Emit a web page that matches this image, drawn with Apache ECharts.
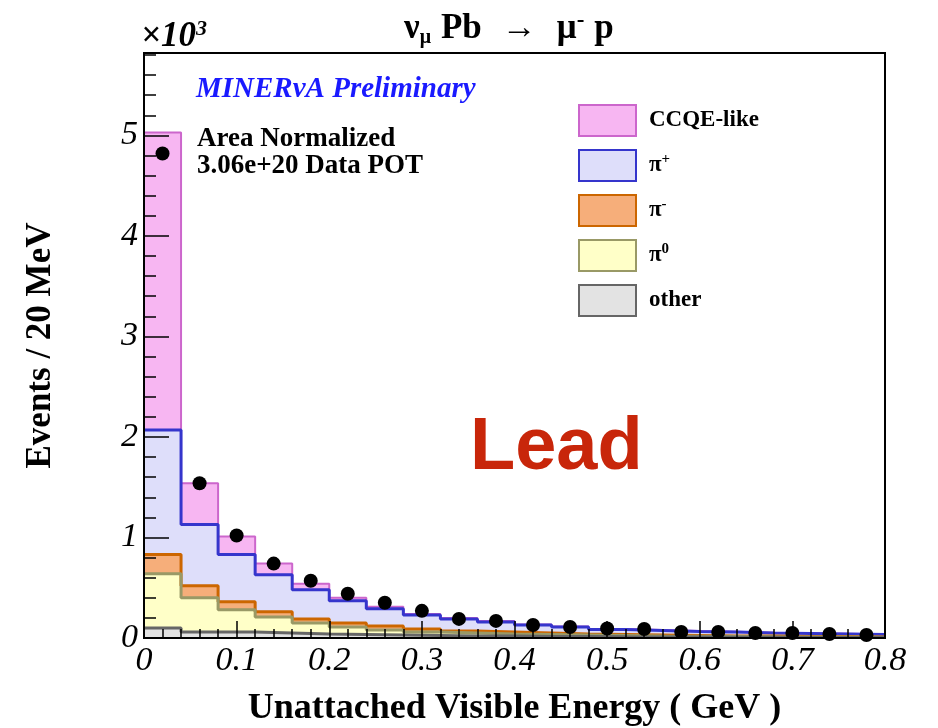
<!DOCTYPE html>
<html><head><meta charset="utf-8">
<script src="https://cdn.jsdelivr.net/npm/echarts@6/dist/echarts.min.js"></script>
<style>html,body{margin:0;padding:0;background:#fff}#c{width:938px;height:728px}</style>
</head><body><div id="c"></div>
<script>
// Bin edges (GeV), 20 MeV -> bins of 0.04 GeV as drawn
const binEdges = [0,0.04,0.08,0.12,0.16,0.20,0.24,0.28,0.32,0.36,0.40,0.44,0.48,0.52,0.56,0.60,0.64,0.68,0.72,0.76,0.80];
// Stacked components (x10^3 events), bottom to top
const other   = [0.10,0.06,0.06,0.05,0.04,0.035,0.03,0.025,0.02,0.02,0.015,0.015,0.012,0.01,0.01,0.008,0.007,0.006,0.005,0.005];
const pi0     = [0.54,0.34,0.22,0.16,0.11,0.075,0.05,0.035,0.03,0.02,0.02,0.015,0.013,0.01,0.008,0.007,0.005,0.004,0.005,0.003];
const piMinus = [0.19,0.12,0.08,0.05,0.04,0.04,0.04,0.03,0.02,0.02,0.015,0.01,0.01,0.01,0.007,0.005,0.008,0.005,0.005,0.002];
const piPlus  = [1.24,0.61,0.47,0.37,0.29,0.22,0.17,0.14,0.12,0.10,0.08,0.07,0.05,0.045,0.04,0.04,0.03,0.03,0.025,0.025];
const ccqe    = [2.96,0.41,0.18,0.11,0.06,0.03,0.02,0.01,0.01,0.01,0.005,0.005,0.005,0.005,0.005,0.002,0.002,0.002,0.002,0.002];
// Data points
const dataPts = [4.82,1.54,1.02,0.74,0.57,0.44,0.35,0.27,0.19,0.17,0.13,0.11,0.095,0.09,0.06,0.06,0.05,0.05,0.04,0.03];
const xTicks = [0,0.1,0.2,0.3,0.4,0.5,0.6,0.7,0.8];
const yTicks = [0,1,2,3,4,5];

const SERIF = '"Liberation Serif","DejaVu Serif",serif';

function cumulative(layers){
  return layers[0].map((_,i)=>layers.reduce((s,a)=>s+a[i],0));
}
function steps(cum){
  const pts=[];
  for(let i=0;i<cum.length;i++){ pts.push([binEdges[i],cum[i]]); pts.push([binEdges[i+1],cum[i]]); }
  return pts;
}
const layers = [
  {name:'CCQE-like', parts:[other,pi0,piMinus,piPlus,ccqe], fill:'#f7b6f2', line:'#cc66cc', w:2},
  {name:'π+', parts:[other,pi0,piMinus,piPlus], fill:'#dedefa', line:'#3535cc', w:3},
  {name:'π-', parts:[other,pi0,piMinus], fill:'#f6ae7a', line:'#cc6600', w:3},
  {name:'π0', parts:[other,pi0], fill:'#ffffc8', line:'#999966', w:3},
  {name:'other', parts:[other], fill:'#e3e3e3', line:'#666666', w:3}
];
const series = layers.map(l=>({
  name:l.name, type:'line', data:steps(cumulative(l.parts)),
  showSymbol:false, symbol:'none', silent:true, animation:false, z:2,
  lineStyle:{color:l.line,width:l.w}, itemStyle:{color:l.fill},
  areaStyle:{color:l.fill,opacity:1,origin:'start'}
}));
series.push({
  name:'Data', type:'scatter', symbol:'circle', symbolSize:14, animation:false,
  itemStyle:{color:'#000',opacity:1}, z:10,
  data:dataPts.map((v,i)=>[(binEdges[i]+binEdges[i+1])/2, v])
});

const chart = echarts.init(document.getElementById('c'), null, {renderer:'canvas'});
chart.setOption({
  backgroundColor:'#fff',
  animation:false,
  grid:{left:144,right:53,top:53,bottom:90,show:true,borderColor:'#000',borderWidth:2,
        backgroundColor:'transparent',z:6,containLabel:false,outerBoundsMode:'none'},
  title:[
    {text:'{n|ν}{sub|μ}  {b|Pb}    {n|→}    {n|μ}{sup|-}  {b|p}', left:404, top:10, padding:0,
     textStyle:{rich:{
       n:{fontFamily:SERIF,fontSize:35,color:'#000',lineHeight:38},
       b:{fontFamily:SERIF,fontSize:35,fontWeight:'bold',color:'#000',lineHeight:38},
       sub:{fontFamily:SERIF,fontSize:20,color:'#000',lineHeight:18,verticalAlign:'bottom'},
       sup:{fontFamily:SERIF,fontSize:23,fontWeight:'bold',color:'#000',lineHeight:18,verticalAlign:'top'}
     }}},
    {text:'{a|×10}{s|3}', left:141, top:18, padding:0,
     textStyle:{rich:{
       a:{fontFamily:SERIF,fontSize:35,fontStyle:'italic',color:'#000',lineHeight:38},
       s:{fontFamily:SERIF,fontSize:22,fontStyle:'italic',color:'#000',lineHeight:22,verticalAlign:'top'}
     }}},
    {text:'MINERνA Preliminary', left:196, top:75, padding:0,
     textStyle:{fontFamily:SERIF,fontSize:29,fontWeight:'bold',fontStyle:'italic',color:'#1a1aff'}},
    {text:'Area Normalized', left:197, top:126, padding:0,
     textStyle:{fontFamily:SERIF,fontSize:27,fontWeight:'bold',color:'#000'}},
    {text:'3.06e+20 Data POT', left:197, top:153, padding:0,
     textStyle:{fontFamily:SERIF,fontSize:27,fontWeight:'bold',color:'#000'}},
    {text:'Lead', left:470, top:412, padding:0,
     textStyle:{fontFamily:'"Liberation Sans",Arial,sans-serif',fontSize:74,fontWeight:'bold',color:'#c8260a'}}
  ],
  legend:{
    orient:'vertical', left:578, top:104, itemWidth:57, itemHeight:31, itemGap:12, icon:'rect',
    selectedMode:false, padding:0,
    data:layers.map(l=>({name:l.name, itemStyle:{color:l.fill,borderColor:l.line,borderWidth:2}})),
    formatter:function(name){
      if(name==='π+') return '{p|π}{s|+}';
      if(name==='π-') return '{p|π}{s|-}';
      if(name==='π0') return '{p|π}{s|0}';
      return '{p|'+name+'}';
    },
    textStyle:{padding:[0,0,0,8],rich:{
      p:{fontFamily:SERIF,fontSize:23,fontWeight:'bold',color:'#000',lineHeight:28},
      s:{fontFamily:SERIF,fontSize:15,fontWeight:'bold',color:'#000',lineHeight:15,verticalAlign:'top'}
    }}
  },
  xAxis:[{
    type:'value', min:0, max:0.8, interval:0.1, z:6,
    name:'Unattached Visible Energy ( GeV )', nameLocation:'middle', nameGap:53,
    nameTextStyle:{fontFamily:SERIF,fontSize:36,fontWeight:'bold',color:'#000'},
    axisLine:{show:true,lineStyle:{color:'#000',width:2}},
    axisTick:{show:true,inside:true,length:17,lineStyle:{color:'#000',width:1.5}},
    minorTick:{show:true,splitNumber:5,length:9,lineStyle:{color:'#000',width:1.5}},
    splitLine:{show:false},
    axisLabel:{fontFamily:SERIF,fontSize:34,fontStyle:'italic',color:'#000',margin:6,
      formatter:v=>xTicks.some(t=>Math.abs(t-v)<1e-9)?String(+v.toFixed(1)):''}
  }],
  yAxis:[{
    type:'value', min:0, max:5.82, interval:1, z:6,
    name:'Events / 20 MeV', nameLocation:'middle', nameGap:86,
    nameTextStyle:{fontFamily:SERIF,fontSize:35,fontWeight:'bold',color:'#000'},
    axisLine:{show:true,lineStyle:{color:'#000',width:2}},
    axisTick:{show:true,inside:true,length:25,lineStyle:{color:'#000',width:1.5}},
    splitLine:{show:false},
    axisLabel:{fontFamily:SERIF,fontSize:34,fontStyle:'italic',color:'#000',margin:6,
      formatter:v=>yTicks.indexOf(v)>=0?String(v):''}
  },{
    type:'value', min:0, max:5.82, interval:0.2, position:'left', z:6,
    axisLine:{show:false}, axisLabel:{show:false}, splitLine:{show:false},
    axisTick:{show:true,inside:true,length:12,lineStyle:{color:'#000',width:1.5}}
  }],
  series:series
});
</script></body></html>
